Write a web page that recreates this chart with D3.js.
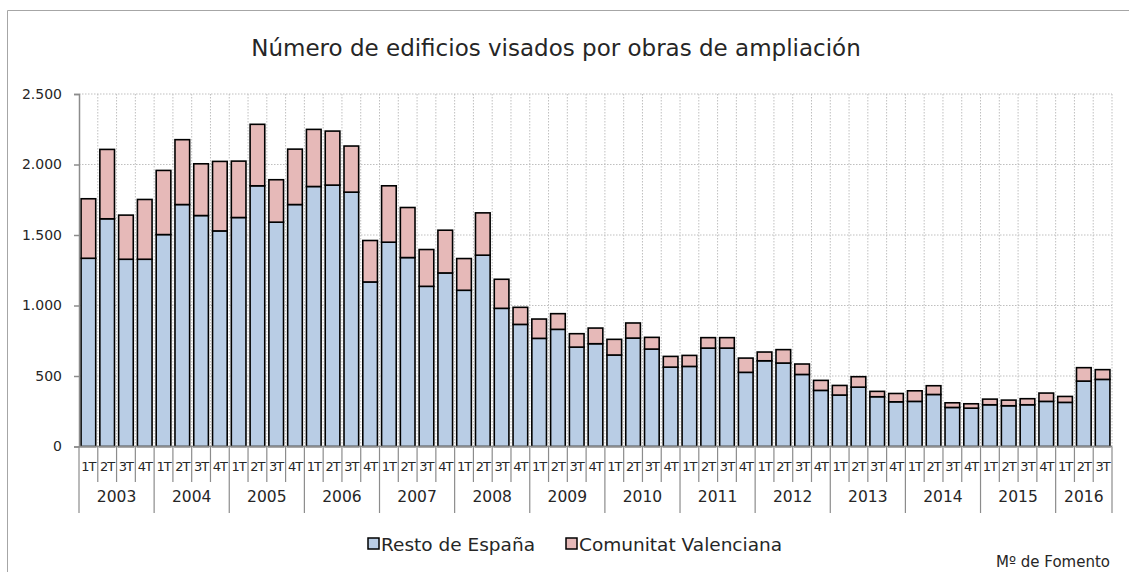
<!DOCTYPE html>
<html>
<head>
<meta charset="utf-8">
<script src="https://cdn.jsdelivr.net/npm/d3@7"></script>
<style>
  body { margin: 0; background: #fff; }
  svg text { font-family: "DejaVu Sans", sans-serif; fill: #262626; }
</style>
</head>
<body>
<div id="chart"></div>
<script>
// Data
const years = ["2003","2004","2005","2006","2007","2008","2009","2010","2011","2012","2013","2014","2015","2016"]
const quarters = ["1T","2T","3T","4T"]
const resto = [1335,1615,1328,1328, 1503,1716,1638,1529, 1624,1849,1591,1716, 1844,1854,1804,1167,
               1449,1340,1136,1231, 1108,1357,980,866, 767,831,705,729, 649,769,691,563,
               568,698,698,526, 608,592,511,398, 365,421,353,317, 320,369,277,272,
               296,289,296,320, 313,464,476]
const total = [1757,2107,1641,1752, 1958,2176,2005,2022, 2024,2285,1892,2109, 2249,2237,2131,1461,
               1849,1695,1397,1534, 1333,1657,1186,987, 904,942,800,840, 760,876,774,639,
               646,772,772,627, 670,687,585,469, 433,495,391,376, 395,431,310,303,
               336,329,339,379, 355,559,545]
const yTicks = [0,500,1000,1500,2000,2500]
const seriesNames = ["Resto de España","Comunitat Valenciana"]
const seriesColors = ["#b9cde5","#e6b9b8"]

// categories
const cats = []
years.forEach(y => quarters.forEach(q => {
    if(cats.length < resto.length) cats.push({year: y, q: q, key: y + "-" + q})
}))
const rows = cats.map((c, i) => ({key: c.key, resto: resto[i], valenciana: total[i] - resto[i]}))

const W = 1129, H = 572
const plotL = 79, plotR = 1112, plotT = 94, plotB = 446.5

const svg = d3.select("#chart").append("svg")
    .attr("width", W).attr("height", H)

// outer frame
svg.append("path")
    .attr("d", `M7.5,${H} V10.5 H${W}`)
    .attr("fill", "none").attr("stroke", "#a6a6a6").attr("stroke-width", 1)

const x = d3.scaleBand().domain(cats.map(c => c.key)).range([plotL, plotR]).paddingInner(0.22).paddingOuter(0.11)
const y = d3.scaleLinear().domain([0, 2500]).range([plotB, plotT])
const step = x.step()

// grid
const g = svg.append("g")
g.selectAll(".hgrid").data(yTicks.filter(t => t > 0)).join("line")
    .attr("x1", plotL).attr("x2", plotR)
    .attr("y1", d => y(d)).attr("y2", d => y(d))
    .attr("stroke", "#bfbfbf").attr("stroke-dasharray", "1.5,1.5")
g.selectAll(".vgrid").data(d3.range(1, cats.length + 1)).join("line")
    .attr("x1", i => plotL + i * step).attr("x2", i => plotL + i * step)
    .attr("y1", plotT).attr("y2", plotB)
    .attr("stroke", "#bfbfbf").attr("stroke-dasharray", "1.5,1.5")

// bars
const stack = d3.stack().keys(["resto", "valenciana"])(rows)
svg.append("g").selectAll("g").data(stack).join("g")
    .attr("fill", (d, i) => seriesColors[i])
  .selectAll("rect").data(d => d).join("rect")
    .attr("x", d => x(d.data.key))
    .attr("width", x.bandwidth())
    .attr("y", d => y(d[1]))
    .attr("height", d => y(d[0]) - y(d[1]))
    .attr("stroke", "#000").attr("stroke-width", 1.6)

// y axis
const yAxis = svg.append("g").attr("transform", `translate(${plotL},0)`)
    .call(d3.axisLeft(y).tickValues(yTicks).tickSize(5).tickPadding(12)
        .tickFormat(d => d3.format(",")(d).replace(",", ".")))
yAxis.select(".domain").attr("stroke", "#8c8c8c").attr("stroke-width", 1.5)
yAxis.selectAll(".tick line").attr("stroke", "#8c8c8c").attr("stroke-width", 1.5)
yAxis.selectAll("text").style("font-size", "14px").attr("fill", "#262626")

// x axis
const xa = svg.append("g")
xa.append("line").attr("x1", plotL).attr("x2", plotR).attr("y1", plotB).attr("y2", plotB)
    .attr("stroke", "#8c8c8c").attr("stroke-width", 1.5)
xa.selectAll(".qsep").data(d3.range(0, cats.length + 1)).join("line")
    .attr("x1", i => plotL + i * step).attr("x2", i => plotL + i * step)
    .attr("y1", plotB).attr("y2", i => (i % 4 === 0 || i === cats.length) ? 513 : 482)
    .attr("stroke", "#8c8c8c").attr("stroke-width", 1.2)
xa.selectAll(".qlab").data(cats).join("text")
    .attr("x", d => x(d.key) + x.bandwidth() / 2)
    .attr("y", 471)
    .attr("text-anchor", "middle")
    .style("font-size", "13px").style("letter-spacing", "-1px")
    .text(d => d.q)
xa.selectAll(".ylab").data(years).join("text")
    .attr("x", (d, i) => {
        const n = Math.min(4, cats.length - i * 4)
        return plotL + (i * 4 + n / 2) * step
    })
    .attr("y", 502)
    .attr("text-anchor", "middle")
    .style("font-size", "15.5px")
    .text(d => d)

// title
svg.append("text").attr("x", 556).attr("y", 56).attr("text-anchor", "middle")
    .style("font-size", "23px").text("Número de edificios visados por obras de ampliación")

// legend
const leg = svg.append("g")
const legX = [368, 566]
seriesNames.forEach((n, i) => {
    leg.append("rect").attr("x", legX[i]).attr("y", 538).attr("width", 11).attr("height", 11)
        .attr("fill", seriesColors[i]).attr("stroke", "#000").attr("stroke-width", 1.5)
    leg.append("text").attr("x", legX[i] + 13).attr("y", 551)
        .style("font-size", "18.5px").text(n)
})

svg.append("text").attr("x", 1110).attr("y", 567).attr("text-anchor", "end")
    .style("font-size", "15px").text("Mº  de Fomento")
</script>
</body>
</html>
